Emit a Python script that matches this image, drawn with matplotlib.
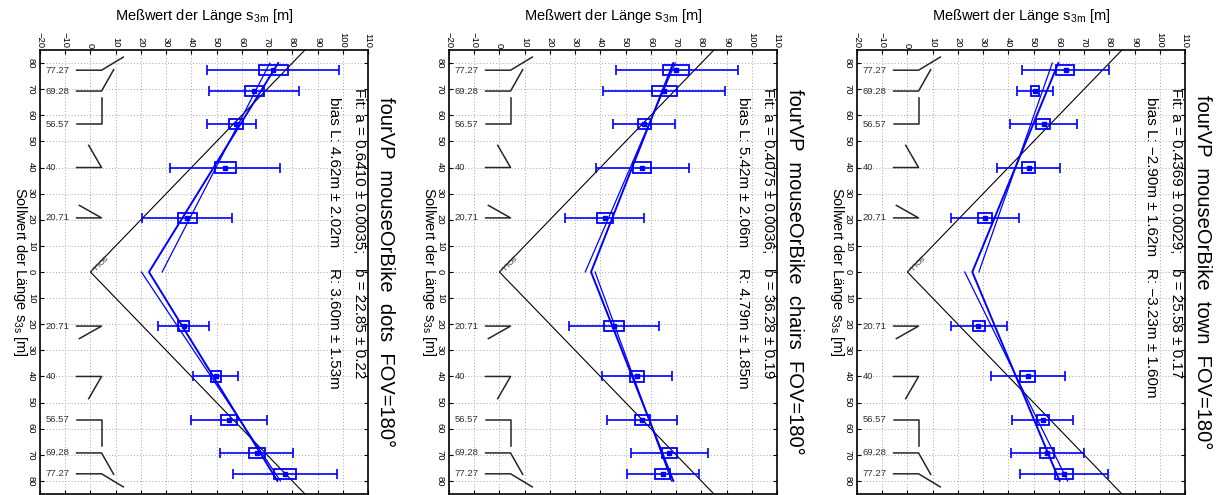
import matplotlib

matplotlib.use("Agg")
import matplotlib.pyplot as plt
import numpy as np
from matplotlib.patches import Rectangle

plt.rcParams["font.family"] = ["Liberation Sans", "DejaVu Sans"]
plt.rcParams["mathtext.default"] = "regular"

# Sollwert positions: first five on the upper side, last five mirrored below
SOLL_Y = [77.27, 69.28, 56.57, 40, 20.71, -77.27, -69.28, -56.57, -40, -20.71]
SOLL_LABELS = ["77.27", "69.28", "56.57", "40", "20.71"]

TITLES = ["fourVP  mouseOrBike  dots  FOV=180°",
          "fourVP  mouseOrBike  chairs  FOV=180°",
          "fourVP  mouseOrBike  town  FOV=180°"]
FIT_TEXT = [("Fit: a = 0.6410 ± 0.0035;", "b = 22.85 ± 0.22"),
            ("Fit: a = 0.4075 ± 0.0036;", "b = 36.28 ± 0.19"),
            ("Fit: a = 0.4369 ± 0.0029;", "b = 25.58 ± 0.17")]
BIAS_TEXT = [("bias L: 4.62m ± 2.02m", "R: 3.60m ± 1.53m"),
             ("bias L: 5.42m ± 2.06m", "R: 4.79m ± 1.85m"),
             ("bias L: \u22122.90m ± 1.62m", "R: \u22123.23m ± 1.60m")]

# measured values (Meßwert), per panel
dots_mean = [72.4, 65.0, 57.6, 53.5, 38.4, 77.0, 65.9, 54.8, 49.8, 36.9]
dots_box_lo = [66.7, 61.2, 55.1, 49.5, 34.6, 72.7, 62.7, 51.8, 47.8, 34.7]
dots_box_hi = [78.2, 68.7, 60.4, 57.7, 42.3, 81.4, 69.1, 58.0, 51.8, 39.1]
dots_err_lo = [46.2, 46.9, 46.2, 31.7, 20.5, 56.4, 51.4, 39.9, 40.7, 26.8]
dots_err_hi = [98.7, 82.8, 65.7, 75.3, 55.9, 97.8, 80.3, 69.8, 58.5, 47.0]

chairs_mean = [70.0, 65.2, 57.3, 56.6, 41.8, 64.7, 67.3, 56.6, 54.6, 45.4]
chairs_box_lo = [64.9, 60.6, 54.8, 53.0, 38.5, 61.8, 64.3, 53.7, 51.8, 41.5]
chairs_box_hi = [75.2, 70.2, 59.9, 60.0, 44.9, 67.6, 70.5, 59.7, 57.4, 49.5]
chairs_err_lo = [46.0, 41.1, 44.9, 38.2, 26.0, 50.4, 52.0, 42.7, 40.6, 27.7]
chairs_err_hi = [94.7, 89.4, 69.7, 75.0, 57.3, 79.1, 82.8, 70.5, 68.5, 63.1]

town_mean = [62.8, 50.4, 54.0, 48.0, 30.9, 61.9, 55.3, 53.6, 47.7, 28.1]
town_box_lo = [58.9, 48.8, 51.0, 45.5, 28.1, 58.5, 52.6, 51.2, 44.8, 26.0]
town_box_hi = [66.2, 52.0, 56.5, 50.6, 33.6, 65.7, 58.2, 56.0, 50.7, 30.6]
town_err_lo = [45.4, 43.5, 40.5, 35.4, 17.4, 44.8, 40.9, 41.4, 33.0, 17.1]
town_err_hi = [80.0, 57.7, 67.0, 60.5, 44.1, 79.3, 69.8, 65.7, 62.6, 39.4]

# fit lines: combined V (x at y = +80, 0, -80) and the separate side fits
FIT_Y = [80, 0, -80]
dots_fit = [74.4, 23.2, 74.1]
dots_fit_up = [28.4, 71.1]
dots_fit_down = [20.2, 75.3]
chairs_fit = [68.9, 36.3, 68.9]
chairs_fit_up = [34.0, 69.7]
chairs_fit_down = [37.9, 68.2]
town_fit = [59.8, 25.7, 60.3]
town_fit_up = [28.3, 57.4]
town_fit_down = [22.7, 63.5]

SOLL_LINE_X = [85, 0, 85]
SOLL_LINE_Y = [85, 0, -85]

# angle pictograms next to the Sollwert labels (end of the second ray, upper side)
ICON_X = [13.0, 9.2, 4.4, -0.7, -4.4]
ICON_DY = [5.0, 8.2, 9.9, 8.5, 4.8]

PANELS = [
    (dots_mean, dots_box_lo, dots_box_hi, dots_err_lo, dots_err_hi, dots_fit, dots_fit_up, dots_fit_down),
    (chairs_mean, chairs_box_lo, chairs_box_hi, chairs_err_lo, chairs_err_hi, chairs_fit, chairs_fit_up, chairs_fit_down),
    (town_mean, town_box_lo, town_box_hi, town_err_lo, town_err_hi, town_fit, town_fit_up, town_fit_down),
]

BLUE = "#0000ff"
W, H = 1220, 495
LEFTS = [40, 449, 857]

fig = plt.figure(figsize=(W / 100, H / 100), dpi=100)

for i, (mean, blo, bhi, elo, ehi, fit, fit_up, fit_down) in enumerate(PANELS):
    ax = fig.add_axes([LEFTS[i] / W, 1 / H, 328 / W, 444 / H])
    ax.set_xlim(-20, 110)
    ax.set_ylim(-85, 85)
    ax.set_xticks(np.arange(-20, 111, 10))
    yt = np.arange(-80, 81, 10)
    ax.set_yticks(yt)
    ax.set_yticklabels([str(abs(v)) for v in yt])
    ax.grid(True, linestyle=(0, (1, 2.2)), color="0.65", lw=0.7)
    ax.set_axisbelow(True)
    ax.tick_params(direction="in", top=True, right=True, bottom=True, left=True,
                   labeltop=True, labelbottom=False, length=3, width=0.8, labelsize=6.8)
    ax.tick_params(axis="x", labelrotation=-90, pad=1.5)
    ax.tick_params(axis="y", labelrotation=-90, pad=3)
    for lbl in ax.get_yticklabels():
        lbl.set_va("center")
    for sp in ax.spines.values():
        sp.set_linewidth(1.2)

    # Soll line
    ax.plot(SOLL_LINE_X, SOLL_LINE_Y, color="black", lw=0.8, zorder=2)
    ax.text(3.0, 3.8, "SOLL", fontsize=5.5, rotation=225, ha="center", va="center",
            rotation_mode="anchor", color="0.2")

    # fit lines
    ax.plot(fit, FIT_Y, color=BLUE, lw=1.4, zorder=3)
    ax.plot(fit_up, FIT_Y[1::-1], color=BLUE, lw=0.9, zorder=3)
    ax.plot(fit_down, FIT_Y[1:], color=BLUE, lw=0.9, zorder=3)

    # boxes, error bars, markers
    for y, m, b0, b1 in zip(SOLL_Y, mean, blo, bhi):
        ax.add_patch(Rectangle((b0, y - 2.0), b1 - b0, 4.0, fill=False,
                               edgecolor=BLUE, lw=1.3, zorder=4))
    xerr = [np.subtract(mean, elo), np.subtract(ehi, mean)]
    ax.errorbar(mean, SOLL_Y, xerr=xerr, fmt="s", color=BLUE, ms=3.2,
                mfc=BLUE, mec=BLUE, elinewidth=1.2, capsize=3.6, capthick=1.2, zorder=5)

    # angle pictograms and labels
    for k, lab in enumerate(SOLL_LABELS):
        for sgn in (1, -1):
            y = sgn * SOLL_Y[k]
            ax.plot([-5.5, 4.4, ICON_X[k]], [y, y, y + sgn * ICON_DY[k]],
                    color="0.15", lw=1.1, zorder=3)
            ax.text(-17.8, y, lab, fontsize=6.8, ha="left", va="center", color="0.2")

    # texts
    ax.text(1.053, 0.5, TITLES[i], transform=ax.transAxes, rotation=-90,
            ha="center", va="center", fontsize=14.5)
    fy = (494 - 88) / 444
    by = (494 - 97) / 444
    sy = (494 - 268) / 444
    ax.text((359 - 40) / 328, fy, FIT_TEXT[i][0], transform=ax.transAxes, rotation=-90,
            ha="center", va="top", fontsize=11)
    ax.text((359 - 40) / 328, sy, FIT_TEXT[i][1], transform=ax.transAxes, rotation=-90,
            ha="center", va="top", fontsize=11)
    ax.text((334 - 40) / 328, by, BIAS_TEXT[i][0], transform=ax.transAxes, rotation=-90,
            ha="center", va="top", fontsize=11)
    ax.text((334 - 40) / 328, sy, BIAS_TEXT[i][1], transform=ax.transAxes, rotation=-90,
            ha="center", va="top", fontsize=11)

    ax.text(0.5, (494 - 16) / 444, "Meßwert der Länge s$_{3m}$ [m]", transform=ax.transAxes,
            ha="center", va="center", fontsize=10.5)
    ax.text(-(40 - 20) / 328, 0.5, "Sollwert der Länge s$_{3s}$ [m]", transform=ax.transAxes,
            rotation=-90, ha="center", va="center", fontsize=10.5)

fig.savefig("out.png", dpi=100)
